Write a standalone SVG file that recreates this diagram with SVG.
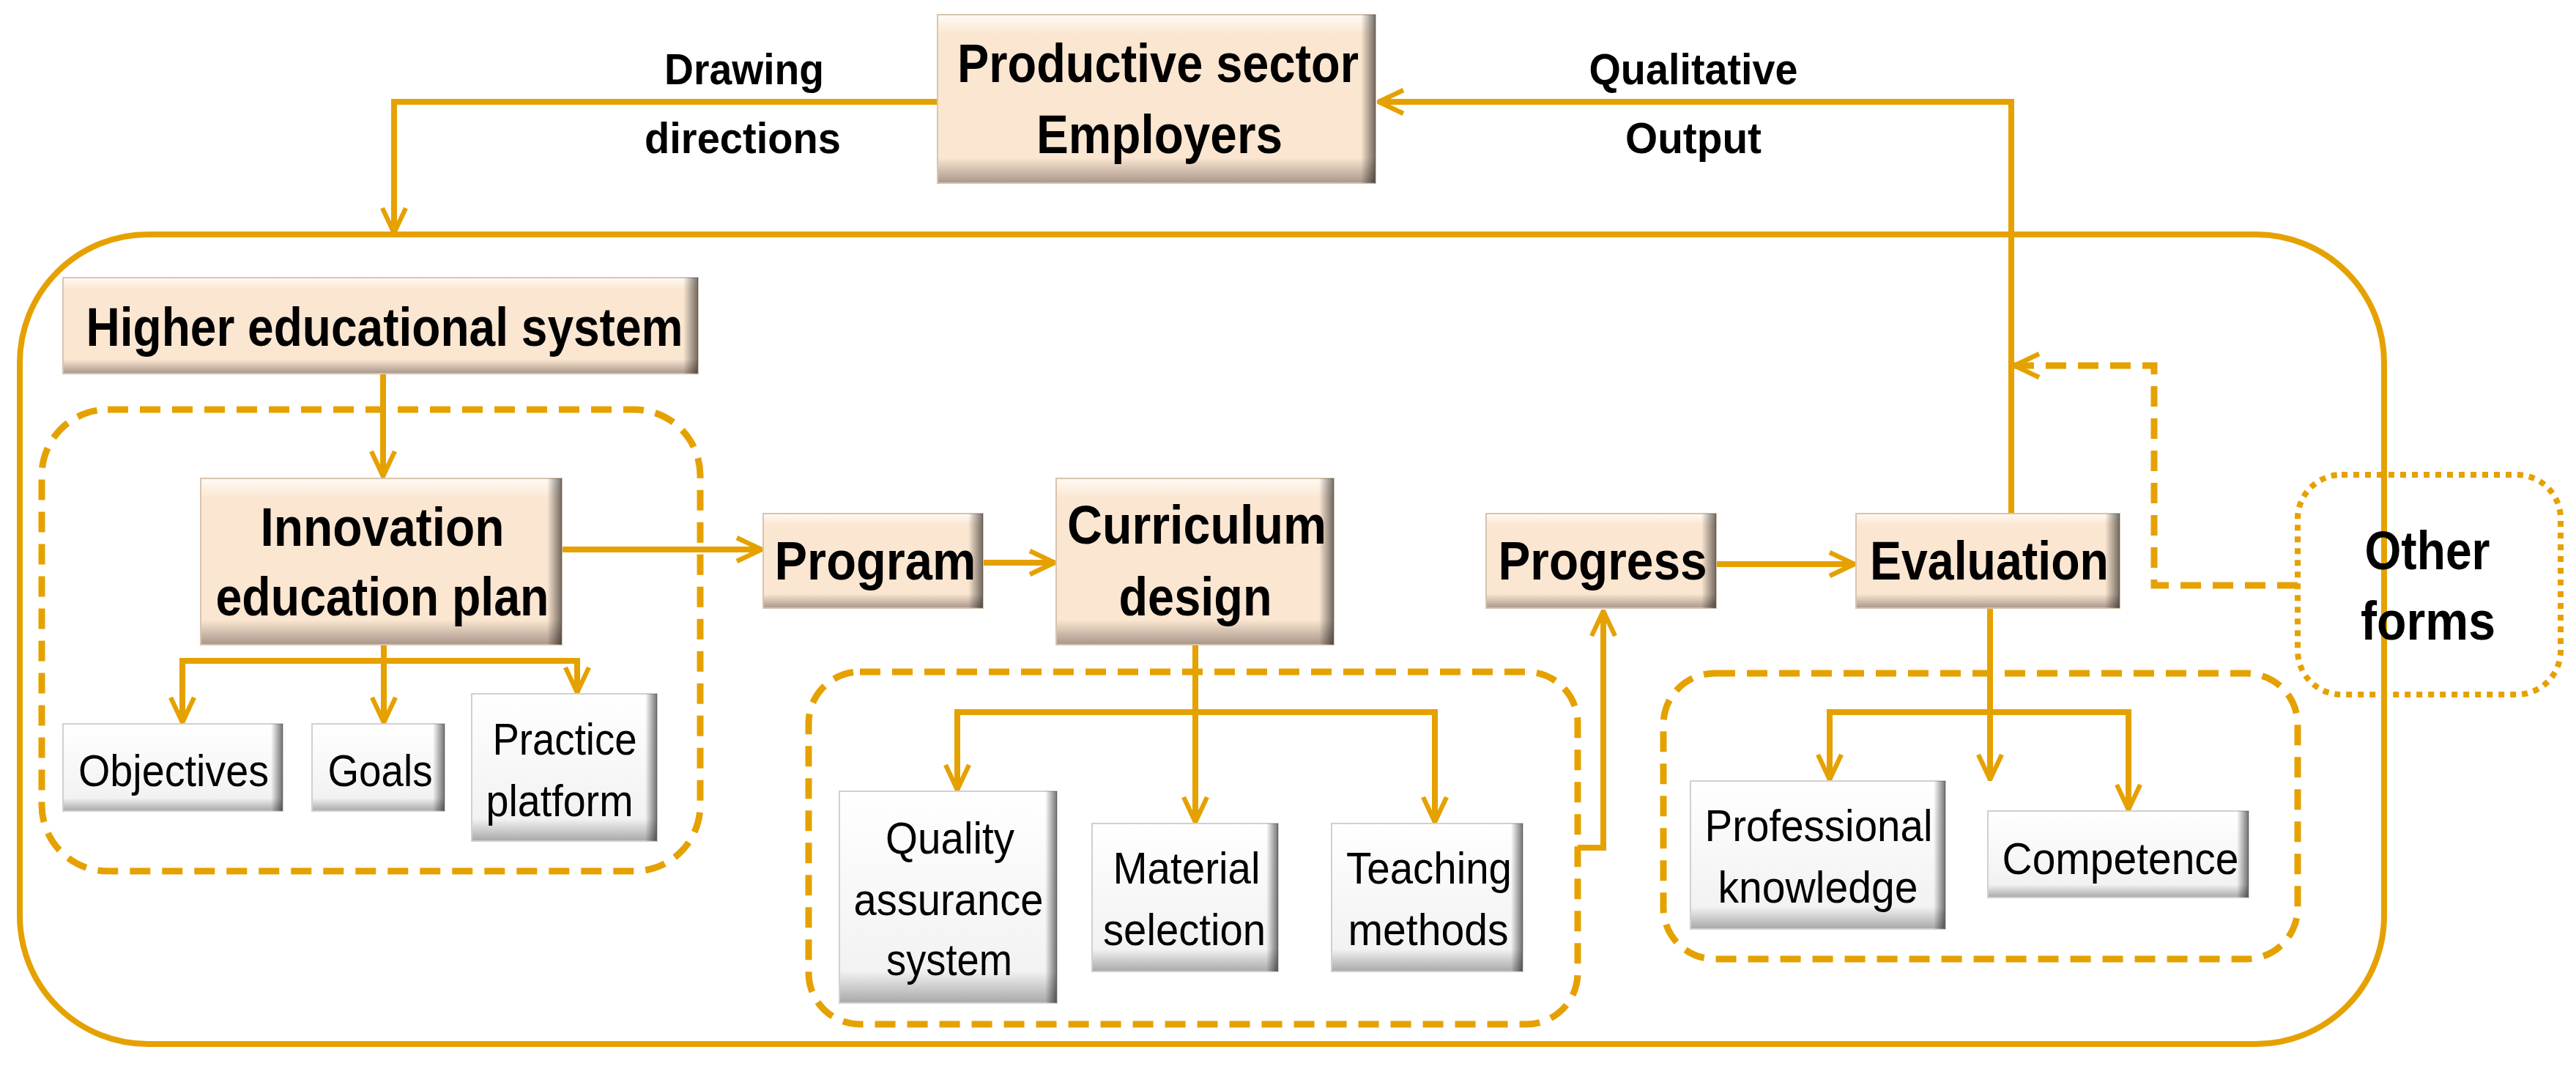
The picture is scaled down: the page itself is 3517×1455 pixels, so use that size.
<svg xmlns="http://www.w3.org/2000/svg" width="3517" height="1455" viewBox="0 0 3517 1455">
<style>
.ln{fill:none;stroke:#E5A100;stroke-width:8}
.ds{fill:none;stroke:#E5A100;stroke-width:9;stroke-dasharray:28 16}
.dt{fill:none;stroke:#E5A100;stroke-width:8;stroke-dasharray:8 8}
.t{font-family:"Liberation Sans Narrow","Liberation Sans",Arial,sans-serif;font-weight:bold;fill:#000;text-anchor:middle}
.b{font-size:74px}
.l{font-size:60px}
.s{font-family:"Liberation Sans Narrow","Liberation Sans",Arial,sans-serif;font-size:62px;fill:#000;text-anchor:middle}
.m{fill:url(#gm);stroke:#d8c4b0;stroke-width:2}
.w{fill:url(#gw);stroke:#d0d0d0;stroke-width:2}
.sh{fill:url(#gr)}
</style>
<defs>
<linearGradient id="gm" x1="0" y1="0" x2="0" y2="1">
<stop offset="0" stop-color="#fffaf3"/><stop offset="0.12" stop-color="#fbe6d1"/><stop offset="0.85" stop-color="#fbe6d1"/><stop offset="1" stop-color="#a8968a"/>
</linearGradient>
<linearGradient id="gw" x1="0" y1="0" x2="0" y2="1">
<stop offset="0" stop-color="#ffffff"/><stop offset="0.85" stop-color="#f2f2f2"/><stop offset="1" stop-color="#a8a8a8"/>
</linearGradient>
<linearGradient id="gr" x1="0" y1="0" x2="1" y2="0">
<stop offset="0" stop-color="#000" stop-opacity="0"/><stop offset="1" stop-color="#000" stop-opacity="0.55"/>
</linearGradient>
<marker id="a" viewBox="0 0 20 20" refX="19" refY="10" markerWidth="40" markerHeight="40" markerUnits="userSpaceOnUse" orient="auto">
<path d="M2,2 L19,10 L2,18" fill="none" stroke="#E5A100" stroke-width="3.2"/>
</marker>
</defs>

<rect id="outer" x="27" y="320" width="3228" height="1105" rx="175" class="ln"/>

<g id="groups">
<rect x="57" y="559" width="899" height="630" rx="90" class="ds"/>
<rect x="1104" y="917" width="1050" height="481" rx="70" class="ds"/>
<rect x="2271" y="919" width="866" height="390" rx="70" class="ds"/>
</g>

<g id="connectors">
<path d="M1280,139 H538 V318" class="ln" marker-end="url(#a)"/>
<path d="M2746,701 V139 H1882" class="ln" marker-end="url(#a)"/>
<path d="M523,510 V650" class="ln" marker-end="url(#a)"/>
<path d="M767,750 H1040" class="ln" marker-end="url(#a)"/>
<path d="M1342,768 H1440" class="ln" marker-end="url(#a)"/>
<path d="M2343,770 H2532" class="ln" marker-end="url(#a)"/>
<path d="M524,880 V986" class="ln" marker-end="url(#a)"/>
<path d="M524,902 H249 V986" class="ln" marker-end="url(#a)"/>
<path d="M524,902 H788 V945" class="ln" marker-end="url(#a)"/>
<path d="M1632,880 V1122" class="ln" marker-end="url(#a)"/>
<path d="M1632,972 H1307 V1078" class="ln" marker-end="url(#a)"/>
<path d="M1632,972 H1959 V1122" class="ln" marker-end="url(#a)"/>
<path d="M2154,1157 H2189 V834" class="ln" marker-end="url(#a)"/>
<path d="M2717,830 V1064" class="ln" marker-end="url(#a)"/>
<path d="M2717,972 H2498 V1064" class="ln" marker-end="url(#a)"/>
<path d="M2717,972 H2906 V1105" class="ln" marker-end="url(#a)"/>
<path d="M3137,799 H2941 V499 H2750" class="ds" marker-end="url(#a)"/>
</g>

<g class="t l">
<text x="1016" y="115" textLength="218" lengthAdjust="spacingAndGlyphs">Drawing</text>
<text x="1014" y="209" textLength="268" lengthAdjust="spacingAndGlyphs">directions</text>
<text x="2312" y="115" textLength="285" lengthAdjust="spacingAndGlyphs">Qualitative</text>
<text x="2312" y="209" textLength="186" lengthAdjust="spacingAndGlyphs">Output</text>
</g>

<g id="productive">
<rect x="1280" y="20" width="598" height="230" class="m"/><rect x="1858" y="20" width="20" height="230" class="sh"/>
<text class="t b" x="1581" y="112" textLength="548" lengthAdjust="spacingAndGlyphs">Productive sector</text>
<text class="t b" x="1583" y="209" textLength="336" lengthAdjust="spacingAndGlyphs">Employers</text>
</g>
<g id="higher">
<rect x="86" y="379" width="867" height="131" class="m"/><rect x="933" y="379" width="20" height="131" class="sh"/>
<text class="t b" x="525" y="472" textLength="815" lengthAdjust="spacingAndGlyphs">Higher educational system</text>
</g>
<g id="innovation">
<rect x="274" y="653" width="493" height="227" class="m"/><rect x="747" y="653" width="20" height="227" class="sh"/>
<text class="t b" x="522" y="745" textLength="333" lengthAdjust="spacingAndGlyphs">Innovation</text>
<text class="t b" x="522" y="840" textLength="455" lengthAdjust="spacingAndGlyphs">education plan</text>
</g>
<g id="program">
<rect x="1042" y="701" width="300" height="129" class="m"/><rect x="1322" y="701" width="20" height="129" class="sh"/>
<text class="t b" x="1195" y="791" textLength="275" lengthAdjust="spacingAndGlyphs">Program</text>
</g>
<g id="curriculum">
<rect x="1442" y="653" width="379" height="227" class="m"/><rect x="1801" y="653" width="20" height="227" class="sh"/>
<text class="t b" x="1634" y="742" textLength="354" lengthAdjust="spacingAndGlyphs">Curriculum</text>
<text class="t b" x="1632" y="840" textLength="209" lengthAdjust="spacingAndGlyphs">design</text>
</g>
<g id="progress">
<rect x="2029" y="701" width="314" height="129" class="m"/><rect x="2323" y="701" width="20" height="129" class="sh"/>
<text class="t b" x="2188" y="791" textLength="285" lengthAdjust="spacingAndGlyphs">Progress</text>
</g>
<g id="evaluation">
<rect x="2534" y="701" width="360" height="129" class="m"/><rect x="2874" y="701" width="20" height="129" class="sh"/>
<text class="t b" x="2716" y="791" textLength="326" lengthAdjust="spacingAndGlyphs">Evaluation</text>
</g>
<g id="other">
<rect x="3137" y="648" width="359" height="300" rx="60" fill="#fff" fill-opacity="0.8" class="dt"/>
<text class="t b" x="3314" y="777" textLength="171" lengthAdjust="spacingAndGlyphs">Other</text>
<text class="t b" x="3315" y="873" textLength="184" lengthAdjust="spacingAndGlyphs">forms</text>
</g>

<g id="objectives"><rect x="86" y="988" width="300" height="119" class="w"/><rect x="370" y="988" width="16" height="119" class="sh"/>
<text class="s" x="237" y="1073" textLength="260" lengthAdjust="spacingAndGlyphs">Objectives</text></g>
<g id="goals"><rect x="426" y="988" width="181" height="119" class="w"/><rect x="591" y="988" width="16" height="119" class="sh"/>
<text class="s" x="519" y="1073" textLength="143" lengthAdjust="spacingAndGlyphs">Goals</text></g>
<g id="practice"><rect x="644" y="947" width="253" height="201" class="w"/><rect x="881" y="947" width="16" height="201" class="sh"/>
<text class="s" x="771" y="1030" textLength="197" lengthAdjust="spacingAndGlyphs">Practice</text>
<text class="s" x="764" y="1114" textLength="201" lengthAdjust="spacingAndGlyphs">platform</text></g>
<g id="quality"><rect x="1146" y="1080" width="297" height="289" class="w"/><rect x="1427" y="1080" width="16" height="289" class="sh"/>
<text class="s" x="1297" y="1165" textLength="176" lengthAdjust="spacingAndGlyphs">Quality</text>
<text class="s" x="1295" y="1249" textLength="259" lengthAdjust="spacingAndGlyphs">assurance</text>
<text class="s" x="1296" y="1331" textLength="172" lengthAdjust="spacingAndGlyphs">system</text></g>
<g id="material"><rect x="1491" y="1124" width="254" height="202" class="w"/><rect x="1729" y="1124" width="16" height="202" class="sh"/>
<text class="s" x="1620" y="1206" textLength="201" lengthAdjust="spacingAndGlyphs">Material</text>
<text class="s" x="1617" y="1290" textLength="222" lengthAdjust="spacingAndGlyphs">selection</text></g>
<g id="teaching"><rect x="1818" y="1124" width="261" height="202" class="w"/><rect x="2063" y="1124" width="16" height="202" class="sh"/>
<text class="s" x="1951" y="1206" textLength="226" lengthAdjust="spacingAndGlyphs">Teaching</text>
<text class="s" x="1950" y="1290" textLength="219" lengthAdjust="spacingAndGlyphs">methods</text></g>
<g id="professional"><rect x="2308" y="1066" width="348" height="202" class="w"/><rect x="2640" y="1066" width="16" height="202" class="sh"/>
<text class="s" x="2483" y="1148" textLength="311" lengthAdjust="spacingAndGlyphs">Professional</text>
<text class="s" x="2482" y="1232" textLength="273" lengthAdjust="spacingAndGlyphs">knowledge</text></g>
<g id="competence"><rect x="2714" y="1107" width="356" height="118" class="w"/><rect x="3054" y="1107" width="16" height="118" class="sh"/>
<text class="s" x="2895" y="1193" textLength="323" lengthAdjust="spacingAndGlyphs">Competence</text></g>
</svg>
